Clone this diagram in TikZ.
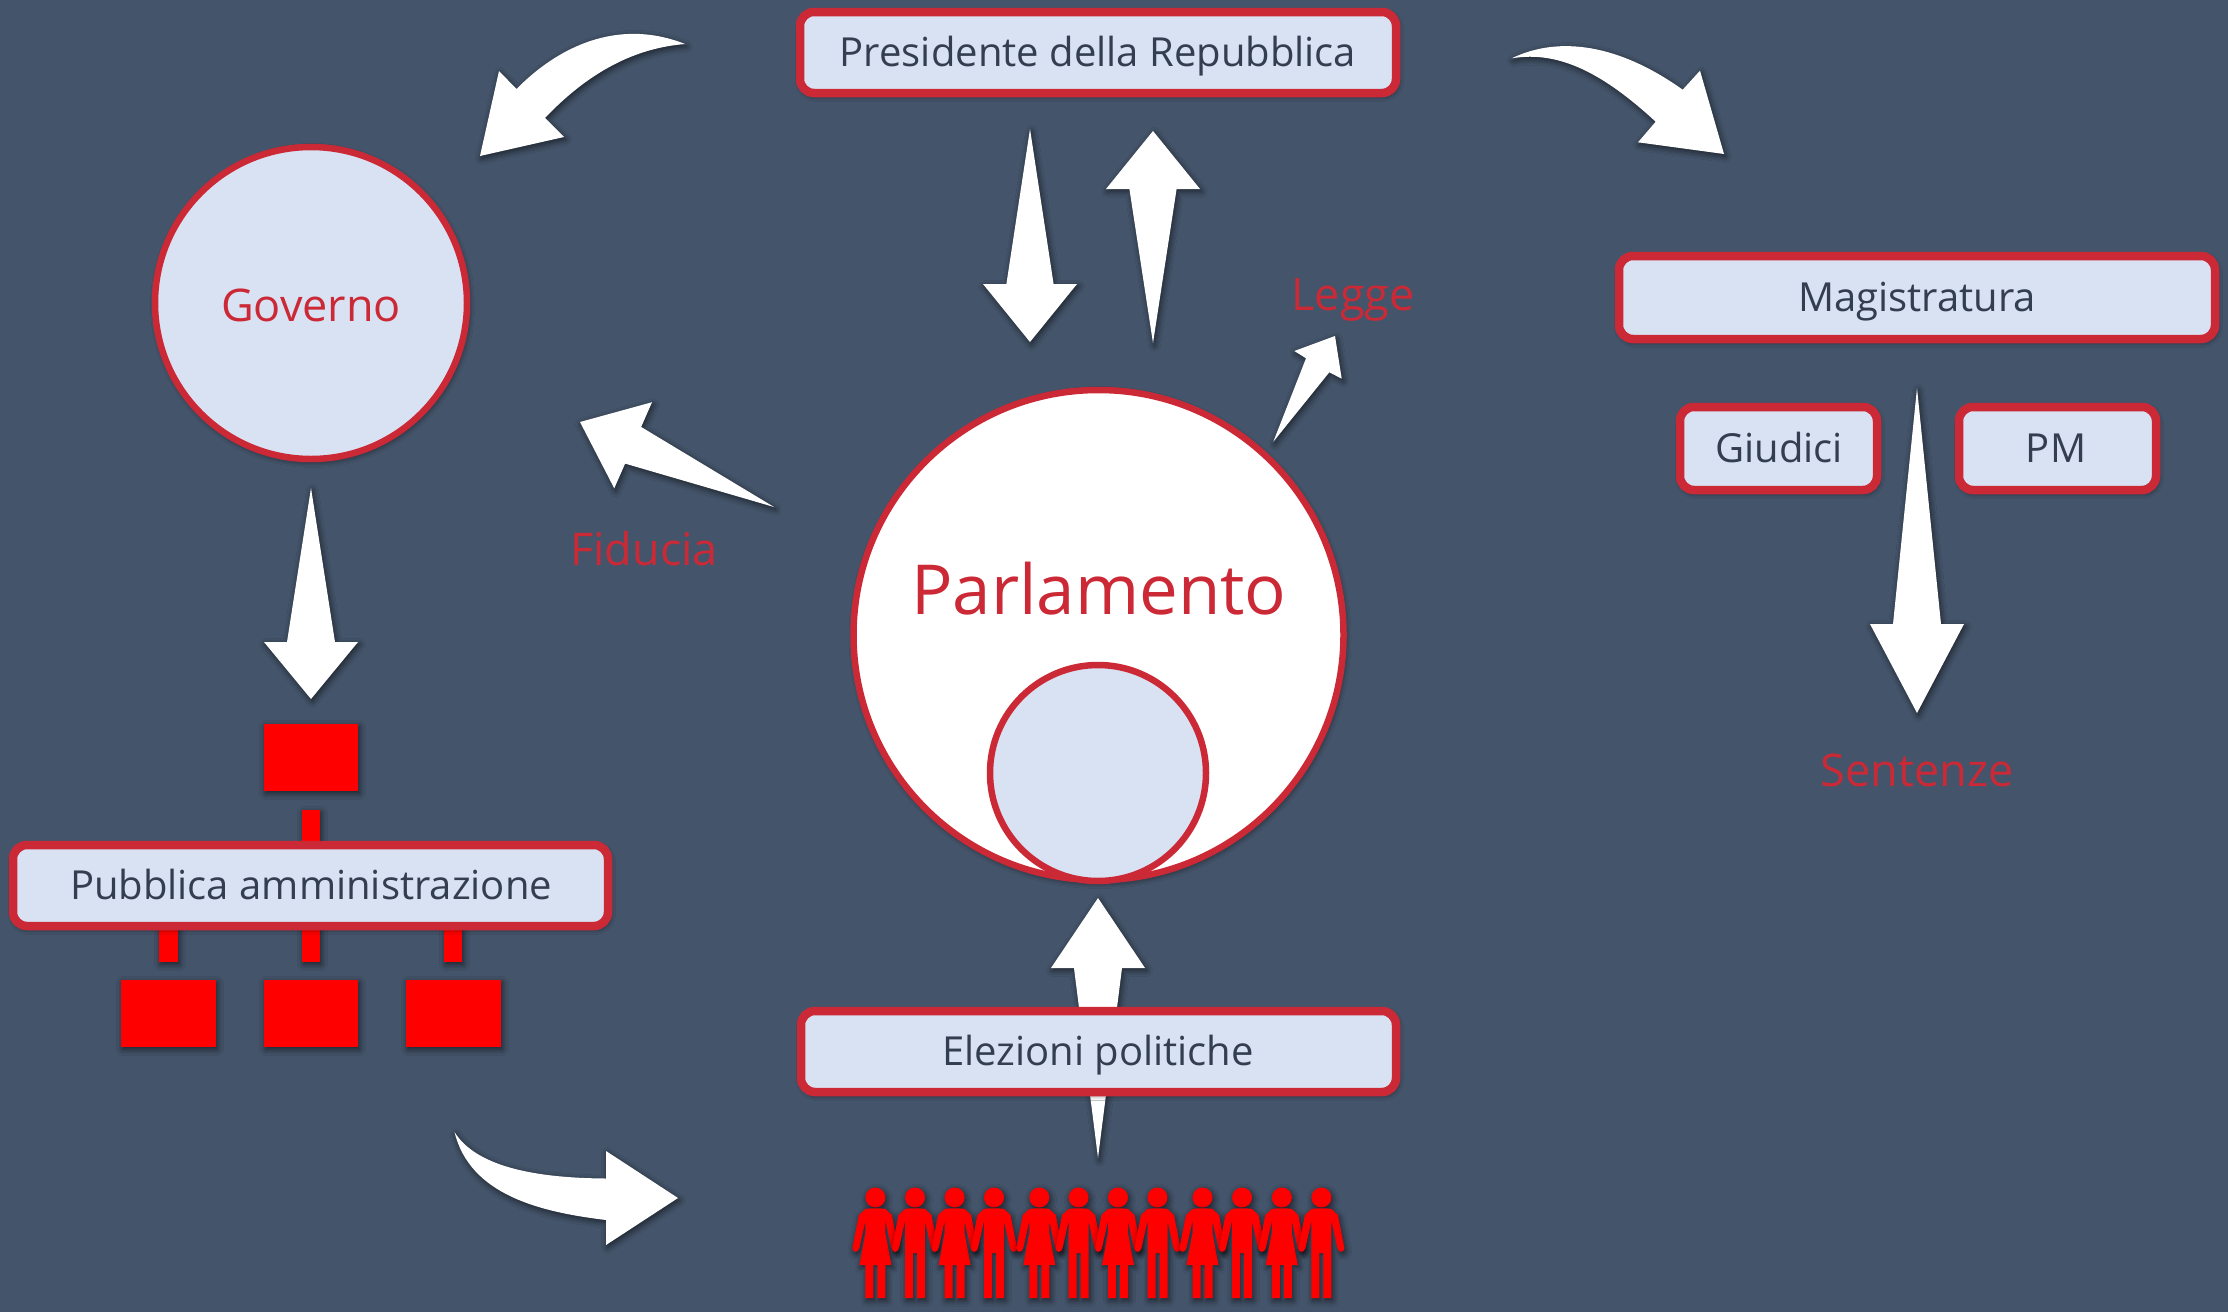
\documentclass[tikz,border=0pt]{standalone}
\usepackage{fontspec}
\setmainfont{Open Sans}
\usetikzlibrary{shadows.blur,calc}
\definecolor{bgc}{HTML}{44546A}
\definecolor{boxc}{HTML}{D9E2F3}
\definecolor{redc}{HTML}{CC2936}
\definecolor{txtc}{HTML}{333F50}
\definecolor{orgc}{HTML}{FF0000}
\tikzset{x=1pt,y=-1pt,
 soft/.style={blur shadow={shadow xshift=1.5pt,shadow yshift=-2.5pt,shadow blur steps=6,shadow blur radius=6pt,shadow opacity=60}},
 tbox/.style={draw=redc,line width=8.5pt,fill=boxc,rounded corners=14pt,soft},
 circ/.style={draw=redc,line width=6.5pt},
 wh/.style={fill=white,soft},
 org/.style={fill=orgc,soft},
 lbl/.style={text=txtc,font=\fontsize{40}{48}\selectfont,inner sep=0pt,anchor=base},
 rlbl/.style={text=redc,font=\fontsize{45}{54}\selectfont,inner sep=0pt,anchor=base}}
% tail x,y ; tip x,y ; head length ; head half ; shaft half
\newcommand{\taperarrow}[8][]{%
 \path[wh,#1] let \n1={atan2(#5-#3,#4-#2)} in
   (#2,#3) -- ($(#4,#5)+(\n1+180:#6)+(\n1+90:#8)$)
   -- ($(#4,#5)+(\n1+180:#6)+(\n1+90:#7)$) -- (#4,#5)
   -- ($(#4,#5)+(\n1+180:#6)+(\n1-90:#7)$)
   -- ($(#4,#5)+(\n1+180:#6)+(\n1-90:#8)$) -- cycle;}
\newcommand{\female}[1]{%
 \begin{scope}[shift={(#1,1209)}]
 \fill[org] (0,-11.5) circle (10);
 \fill[org] (-10,0) .. controls (-5,-1) and (5,-1) .. (10,0) -- (16.5,6) -- (23,39) .. controls (23,44) and (17,44) .. (16,39) -- (10,12) -- (10,24) -- (16,56) -- (10,56) -- (10,89) -- (2,89) -- (2,56) -- (-2,56) -- (-2,89) -- (-10,89) -- (-10,56) -- (-16,56) -- (-10,24) -- (-10,12) -- (-16,39) .. controls (-17,44) and (-23,44) .. (-23,39) -- (-16.5,6) -- cycle;
 \end{scope}}
\newcommand{\male}[1]{%
 \begin{scope}[shift={(#1,1209)}]
 \fill[org] (0,-11.5) circle (10);
 \fill[org] (-10,0) .. controls (-5,-1) and (5,-1) .. (10,0) -- (16.5,6) -- (23,39) .. controls (23,44) and (17,44) .. (16,39) -- (10,12) -- (10,89) -- (2,89) -- (2,44) -- (-2,44) -- (-2,89) -- (-10,89) -- (-10,12) -- (-16,39) .. controls (-17,44) and (-23,44) .. (-23,39) -- (-16.5,6) -- cycle;
 \end{scope}}
\begin{document}
\begin{tikzpicture}
\fill[bgc] (0,0) rectangle (2228,1312);
\useasboundingbox (0,0) rectangle (2228,1312);
% curved arrows
\path[wh] (685,44) .. controls (650,47) and (600,60) .. (545,118) -- (564,137) -- (480,156) -- (499,71) -- (516.5,89) .. controls (565,40) and (625,20) .. (685,44) -- cycle;
\path[wh] (1511.7,58.3) .. controls (1560,35) and (1620,45) .. (1682.7,89.7) -- (1700,70.7) -- (1724,154) -- (1638,142.3) -- (1655.7,121.7) .. controls (1605,75) and (1560,50) .. (1511.7,58.3) -- cycle;
\path[wh] (454.5,1132) .. controls (475,1165) and (530,1178) .. (606,1178.5) -- (606,1151) -- (678,1198) -- (606,1245) -- (606,1220) .. controls (540,1212) and (470,1195) .. (454.5,1132) -- cycle;
% straight arrows
\taperarrow{1030}{129}{1030}{342}{58}{47}{23.6}
\taperarrow{1153}{343}{1153}{131}{58}{47}{23.6}
\taperarrow{311}{488}{311}{699}{57}{47}{24}
\taperarrow{1917}{388}{1917}{713}{89}{47}{24}
\taperarrow{774}{507}{580}{422}{58}{47}{20}
\path[wh] (1273.3,441.7) -- (1306,358.3) -- (1294.3,351) -- (1335,336) -- (1341.7,378.7) -- (1329.3,372.3) -- cycle;
\taperarrow{1098}{1158}{1098}{898}{70}{47}{24}
% org chart
\fill[org] (264,724) rectangle (358,791);
\fill[org] (302,810) rectangle (320,845);
\fill[org] (159,925) rectangle (178,962);
\fill[org] (302,925) rectangle (320,962);
\fill[org] (444,925) rectangle (462,962);
\fill[org] (121,980) rectangle (216,1047);
\fill[org] (264,980) rectangle (358,1047);
\fill[org] (406,980) rectangle (501,1047);
% boxes
\draw[tbox] (800,12) rectangle (1396,93);
\node[lbl] (pres) at (1098,66) {Presidente della Repubblica};
\draw[tbox] (1619,256) rectangle (2215,339);
\node[lbl] (mag) at (1917,311) {Magistratura};
\draw[tbox] (1680,407) rectangle (1877,490);
\node[lbl] (giu) at (1779,462) {Giudici};
\draw[tbox] (1959,407) rectangle (2156,490);
\node[lbl] (pm) at (2056,462) {PM};
\draw[tbox] (801,1011) rectangle (1396,1092);
\node[lbl] (ele) at (1098,1065) {Elezioni politiche};
\draw[tbox] (13,845) rectangle (608,926);
\node[lbl] (pa) at (311,899) {Pubblica amministrazione};
% circles
\draw[circ,fill=boxc,soft] (311,303) circle (156);
\node[rlbl] (gov) at (311,321) {Governo};
\draw[circ,fill=white,soft] (1098.5,635) circle (245);
\node[rlbl,font=\fontsize{69}{83}\selectfont] (parl) at (1099,614) {Parlamento};
\draw[circ,fill=boxc] (1098,773) circle (108);
\node[rlbl] (leg) at (1353,310) {Legge};
\node[rlbl] (fid) at (644,565) {Fiducia};
\node[rlbl] (sen) at (1917,786) {Sentenze};
% people
\female{875.4}\male{915}\female{954.6}\male{994}\female{1039.3}\male{1078.6}\female{1118}\male{1157.5}\female{1202.5}\male{1242}\female{1281.8}\male{1321.4}
\end{tikzpicture}
\end{document}
